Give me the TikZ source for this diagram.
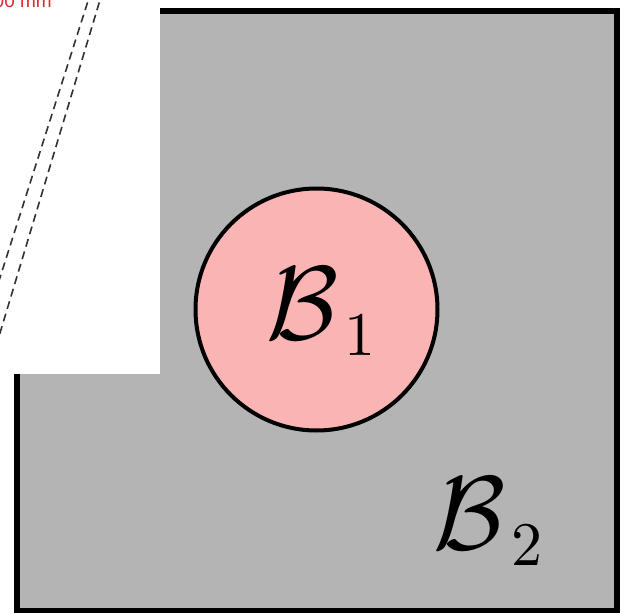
\documentclass[tikz,border=0pt]{standalone}
\usepackage{fontspec}
\newfontfamily\labelsans{Liberation Sans}
\definecolor{regiongray}{RGB}{180,180,180}
\definecolor{ballpink}{RGB}{250,180,180}
\definecolor{dimred}{RGB}{220,40,50}
\definecolor{dashgray}{RGB}{50,50,50}
\tikzset{
  outerbox/.style={fill=regiongray, draw=black, line width=6pt},
  ballshape/.style={circle, fill=ballpink, draw=black, line width=4pt, minimum size=242pt, inner sep=0pt},
  biglabel/.style={inner sep=0pt, anchor=base west},
  guideline/.style={dashgray, dashed, dash pattern=on 8pt off 5pt, line width=1.6pt},
  dimtext/.style={dimred, inner sep=0pt, font=\labelsans\fontsize{19}{19}\selectfont}
}
\newcommand{\biglab}[1]{\scalebox{10.5}{$\mathcal{B}$}\hspace{6pt}\raisebox{-17pt}{\scalebox{6.2}{#1}}}
\begin{document}
\begin{tikzpicture}[x=1pt,y=-1pt]
\useasboundingbox (0,0) rectangle (625,613);
\clip (0,0) rectangle (625,613);
\draw[outerbox] (17,11) rectangle (617,610.5);
\fill[white] (0,0) rectangle (160,374);
\coordinate (g1a) at (91.5,-10);
\coordinate (g1b) at (-3,287);
\coordinate (g2a) at (103,-10);
\coordinate (g2b) at (-3,343);
\draw[guideline] (g1a) -- (g1b);
\draw[guideline] (g2a) -- (g2b);
\node[dimtext, anchor=base east] (dim) at (52,7) {100 mm};
\node[ballshape] (b1) at (316.5,309.5) {};
\node[biglabel] (l1) at (266,339) {\biglab{1}};
\node[biglabel] (l2) at (433,549) {\biglab{2}};
\end{tikzpicture}
\end{document}
